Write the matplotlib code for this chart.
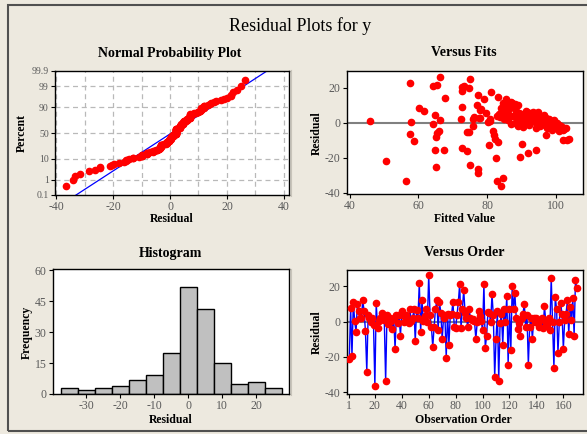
import numpy as np
import matplotlib
matplotlib.use('Agg')
import matplotlib.pyplot as plt
from matplotlib.patches import Rectangle
from statistics import NormalDist

# residuals in observation order
resid = [
    -21, 8, -19.5, 11, 0.5, -6, 10, 6, 2, 2,
    12, 6, -5.5, -28.5, 3.5, 2, 0, 2, -2, -36.5,
    10.5, -3.5, 0.5, 2, 5, 2, 1, -34, 3.5, -1.5,
    2, 0.5, -4, 2, -15.5, 4, -1, 3.5, -8, 6,
    4, -0.5, 4, 1, -1, 7, 0.5, 2, 7, -11,
    6.5, 2, 22, -6, 12, 0.5, 3, 7, 0, 26.5,
    3.5, -3, -14.5, -3, 7, 12, -4.5, 11, 5, -10,
    2, 4, -20.5, 4.5, -13, 3.5, 4.5, 11, -3, -3.5,
    3.5, 11, 21.5, -3.5, 7, 18, 5, 2, -3, 7,
    2, 1, 1.5, 0.5, -10, -0.5, 6, 3, 0.5, -5,
    21.5, -15, -8, 5.5, 5, -0.5, 15.5, 3.5, -31.5, -10,
    6, -33.5, -1, 4.5, -13, 7, 0, 14.5, -24.5, 7,
    -16, 20, 7, 16, 2, -4, -1, -8, 2, 4.5,
    10, -3, 3.5, -24.5, -3, 2, -10, 2, -0.5, 2,
    -1, -3, 1, 2, -3.5, 9, -1, -2, 2, -4.5,
    25, -0.5, -26.5, 14, 7, -18, 0, 10.5, 4.5, -15.5,
    1, 4.5, 12, -7, 8.5, 1, 13.5, -8, 23.5, 19,
]

# Versus Fits scatter
fit_x = [45.8, 50.6, 56.3, 57.6, 57.7, 57.4, 58.6, 60.3, 61.5, 64.2, 64.9, 64.3, 65.3, 66.4,
         65.9, 65.4, 65.2, 64.9, 65.1, 66.4, 67.3, 67.7,
         72.4, 72.7, 72.6, 72.8, 73.2, 72.6, 74.1, 74.6, 75.1, 74.6, 74.9, 75.8, 76.0, 76.3,
         76.9, 77.3, 77.8, 78.0, 77.3, 77.3, 79.0, 79.7, 80.7, 80.9, 80.6, 81.0, 81.7, 82.0,
         82.6, 82.8, 83.0, 83.2, 83.3, 83.6, 84.0, 84.7, 84.5, 85.5, 86.7, 89.6, 90.0, 90.5,
         92.0, 94.2, 94.2, 97.1, 102.0, 103.7, 103.3, 102.5, 74.2, 77.5, 78.3, 80.3, 82.3,
         83.4, 84.2, 83.9,
         84.5, 85.0, 85.5, 86.0, 86.5, 86.8, 87.0, 87.3, 87.5, 87.8, 88.0, 88.3, 88.5, 88.8,
         89.0, 89.2, 89.5, 89.8, 90.0, 90.3, 90.5, 90.8, 91.0, 91.3, 91.5, 91.8, 92.0, 92.2,
         92.5, 92.8, 93.0, 93.2, 93.5, 93.8, 94.0, 94.2, 94.5, 94.8, 95.0, 95.2, 95.5, 95.8,
         96.0, 96.2, 96.5, 96.8, 97.0, 97.2, 97.5, 97.8, 98.0, 98.2, 98.5, 98.8, 99.0, 99.2,
         99.5, 99.8, 100.0, 100.2, 100.5, 100.8, 101.0, 101.3, 101.5, 102.0, 102.5, 103.0,
         86.0, 87.0, 88.0, 89.0, 85.3, 86.2, 84.0, 83.8, 84.8]
fit_y = [1.1, -21.7, -33.3, 23.0, 0.6, -6.3, -10.3, 8.4, 7.0, -0.7, 4.6, 21.1, 21.7, 26.5,
         -4.6, -5.5, -8.2, -15.4, -25.0, 1.7, -15.4, 14.1,
         2.4, 9.3, 18.5, 20.7, 21.3, -14.3, -16.0, 19.8, 25.0, -5.3, -24.2, 2.3, -2.0, 3.6,
         10.3, 15.8, 7.6, 2.7, -26.5, -28.4, 13.9, 5.5, 2.5, 1.3, -12.4, 17.7, -4.6, -6.9,
         -20.2, 4.0, -33.1, -10.9, 15.0, 3.6, -35.8, -31.4, 11.6, 13.5, 11.2, -19.2, -12.0, -2.1,
         -17.3, -15.4, -2.9, -6.9, -9.7, -9.3, -9.9, -3.0, -5.0, 3.0, 8.0, 0.5, -9.1,
         5.0, 7.5, 4.2,
         7.0, 9.0, 12.5, 11.0, 8.0, 12.0, 10.0, 11.5, 4.0, 9.0, 11.0, 7.0, 10.0, 2.0,
         10.5, 5.5, 1.0, 5.0, 2.0, 4.0, 1.5, 0.0, 3.0, 7.0, 6.0, 2.0, 4.5, -1.0,
         5.5, 3.0, 1.0, 6.5, 4.0, 2.0, 5.0, 0.0, 3.0, 6.0, 1.5, 4.0, -2.0, 3.0,
         0.5, 2.5, 4.5, -1.0, 1.0, 3.0, -3.0, 0.0, 2.0, -1.5, 1.0, -4.0, 0.5, -2.0,
         1.5, -1.0, -3.0, 0.0, -2.0, -4.5, -1.0, -3.0, -2.0, -4.0, -3.5, -3.0,
         1.5, -0.5, 0.0, -2.0, 4.0, 5.0, 8.5, 4.5, 2.0]

# Histogram
hist_centers = [-35, -30, -25, -20, -15, -10, -5, 0, 5, 10, 15, 20, 25]
hist_counts = [3, 2, 3, 4, 7, 9, 20, 52, 41, 15, 5, 6, 3]

pct_ticks = [0.1, 1, 10, 50, 90, 99, 99.9]
pct_grid = [1, 10, 50, 90, 99]

BG = '#EDE9DF'
W, H = 587, 434
plt.rcParams['font.family'] = ['Liberation Serif', 'DejaVu Serif']
plt.rcParams['axes.unicode_minus'] = False

fig = plt.figure(figsize=(W / 100, H / 100), dpi=100, facecolor=BG)


def box(x0, y0, x1, y1):
    return [x0 / W, 1 - y1 / H, (x1 - x0) / W, (y1 - y0) / H]


def label(x, y, s, size=8.5, rot=0, weight='bold'):
    fig.text(x / W, 1 - y / H, s, ha='center', va='center', fontsize=size,
             rotation=rot, fontweight=weight)


def style(ax):
    ax.set_facecolor('white')
    for s in ax.spines.values():
        s.set_linewidth(1.0)
        s.set_color('black')
    ax.tick_params(direction='out', length=3, width=0.8, labelsize=8.5,
                   labelcolor='#5a5a5a', pad=1.5)


# outer frame
fig.patches.append(Rectangle((8 / W, 1 - 431 / H), 600 / W, 426 / H, fill=False,
                             ec='#505050', lw=1.5, transform=fig.transFigure))
for y0, y1 in [(70, 196), (269, 395)]:
    fig.add_artist(plt.Line2D([291 / W, 291 / W], [1 - y1 / H, 1 - y0 / H],
                              color='#c8c4ba', lw=0.8))

nd = NormalDist()
r = np.array(resid, dtype=float)
n = len(r)

# Normal probability plot
ax1 = fig.add_axes(box(55, 71, 289, 195))
style(ax1)
srt = np.sort(r)
z = np.array([nd.inv_cdf((i - 0.3) / (n + 0.4)) for i in range(1, n + 1)])
mu, sd = r.mean(), r.std(ddof=1)
zl = np.array([-3.5, 3.5])
for gx in range(-40, 50, 10):
    ax1.axvline(gx, color='#b9b9b9', lw=0.9, ls=(0, (4, 3)), zorder=0)
for p in pct_grid:
    ax1.axhline(nd.inv_cdf(p / 100), color='#b9b9b9', lw=0.9, ls=(0, (4, 3)), zorder=0)
ax1.plot(mu + sd * zl, zl, color='blue', lw=0.9, zorder=2)
ax1.plot(srt, z, 'o', color='red', ms=4.5, mec='red', zorder=3)
ax1.set_xlim(-40.4, 41.8)
ax1.set_ylim(nd.inv_cdf(0.001), nd.inv_cdf(0.999))
ax1.set_xticks([-40, -20, 0, 20, 40])
ax1.set_yticks([nd.inv_cdf(p / 100) for p in pct_ticks])
ax1.set_yticklabels([f'{p:g}' for p in pct_ticks])
ax1.tick_params(axis='y', labelsize=7)

# Versus fits
ax2 = fig.add_axes(box(347, 71, 583, 194))
style(ax2)
ax2.axhline(0, color='#808080', lw=1.5, zorder=1)
ax2.plot(fit_x, fit_y, 'o', color='red', ms=4.5, mec='red', zorder=3)
ax2.set_xlim(39.2, 107.9)
ax2.set_ylim(-40.6, 29.7)
ax2.set_xticks([40, 60, 80, 100])
ax2.set_yticks([-40, -20, 0, 20])

# Histogram
ax3 = fig.add_axes(box(53, 269, 289, 394))
style(ax3)
ax3.bar(hist_centers, hist_counts, width=5, color='#C0C0C0', edgecolor='black', lw=1, zorder=2)
ax3.set_xlim(-39.8, 29.6)
ax3.set_ylim(0, 60.5)
ax3.set_xticks([-30, -20, -10, 0, 10, 20])
ax3.set_yticks([0, 15, 30, 45, 60])

# Versus order
ax4 = fig.add_axes(box(347, 270, 583, 394))
style(ax4)
obs = np.arange(1, n + 1)
ax4.axhline(0, color='#808080', lw=1.5, zorder=1)
ax4.plot(obs, r, '-', color='blue', lw=1.0, zorder=2)
ax4.plot(obs, r, 'o', color='red', ms=4.5, mec='red', zorder=3)
ax4.set_xlim(-0.7, 174.6)
ax4.set_ylim(-41.1, 29.3)
ax4.set_xticks([1, 20, 40, 60, 80, 100, 120, 140, 160])
ax4.set_yticks([-40, -20, 0, 20])

# titles and labels
label(300, 26, 'Residual Plots for y', size=13, weight='normal')
label(170, 53, 'Normal Probability Plot', size=10)
label(464, 53, 'Versus Fits', size=10)
label(170, 253, 'Histogram', size=10)
label(464, 253, 'Versus Order', size=10)
label(172, 219, 'Residual')
label(465, 219, 'Fitted Value')
label(171, 420, 'Residual')
label(463, 420, 'Observation Order')
label(22, 133, 'Percent', rot=90)
label(317, 133, 'Residual', rot=90)
label(27, 332, 'Frequency', rot=90)
label(317, 332, 'Residual', rot=90)

fig.savefig('out.png', dpi=100, facecolor=BG)
